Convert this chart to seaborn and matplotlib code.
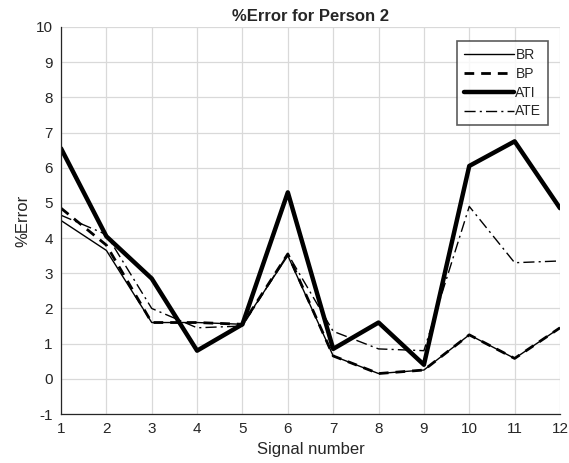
import matplotlib
matplotlib.use("Agg")
import matplotlib.pyplot as plt
import seaborn as sns
import pandas as pd

signals = list(range(1, 13))
br = [4.50, 3.65, 1.60, 1.60, 1.55, 3.50, 0.65, 0.15, 0.25, 1.25, 0.58, 1.45]
bp = [4.85, 3.80, 1.60, 1.60, 1.55, 3.55, 0.65, 0.15, 0.25, 1.25, 0.58, 1.45]
ati = [6.55, 4.05, 2.85, 0.80, 1.55, 5.30, 0.85, 1.60, 0.40, 6.05, 6.75, 4.85]
ate = [4.65, 4.10, 2.00, 1.45, 1.50, 3.55, 1.35, 0.85, 0.80, 4.90, 3.30, 3.35]
yticks = list(range(-1, 11))

sns.set_style("white")
plt.rcParams["font.family"] = ["Liberation Sans", "DejaVu Sans"]
plt.rcParams["axes.unicode_minus"] = False

df = pd.DataFrame({"signal": signals, "BR": br, "BP": bp, "ATI": ati, "ATE": ate})
long = df.melt(id_vars="signal", var_name="method", value_name="err")

fig = plt.figure(figsize=(5.69, 4.63), dpi=100)
ax = fig.add_axes([61 / 569, 1 - 414 / 463, (560 - 61) / 569, (414 - 27) / 463])

styles = {
    "BR": dict(lw=1.0, ls="-"),
    "BP": dict(lw=2.0, ls=(0, (3.5, 2.5))),
    "ATI": dict(lw=3.2, ls="-"),
    "ATE": dict(lw=1.0, ls=(0, (8, 3, 1.5, 3))),
}
for name in ["BR", "BP", "ATI", "ATE"]:
    sub = long[long["method"] == name]
    sns.lineplot(data=sub, x="signal", y="err", ax=ax, color="black",
                 label=name, **styles[name])

ax.set_xlim(1, 12)
ax.set_ylim(-1, 10)
ax.set_xticks(signals)
ax.set_yticks(yticks)
ax.grid(True, color="#d9d9d9", lw=0.9)
ax.set_axisbelow(True)
for s in ["top", "right"]:
    ax.spines[s].set_visible(False)
for s in ["left", "bottom"]:
    ax.spines[s].set_color("#262626")
    ax.spines[s].set_linewidth(0.9)
ax.tick_params(direction="in", length=4, width=0.9, colors="#262626",
               labelsize=11, pad=6)
ax.set_xlabel("Signal number", fontsize=12, labelpad=4)
ax.set_ylabel("%Error", fontsize=12, labelpad=4)
ax.set_title("%Error for Person 2", fontsize=12, fontweight="bold", pad=4)

leg = ax.legend(loc="upper right", bbox_to_anchor=(0.985, 0.975), fontsize=10,
                frameon=True, fancybox=False, edgecolor="#333333",
                handlelength=3.6, handletextpad=0.1, borderpad=0.5,
                labelspacing=0.35, borderaxespad=0.3)
leg.get_frame().set_linewidth(1.2)

fig.savefig("out.png", dpi=100)
